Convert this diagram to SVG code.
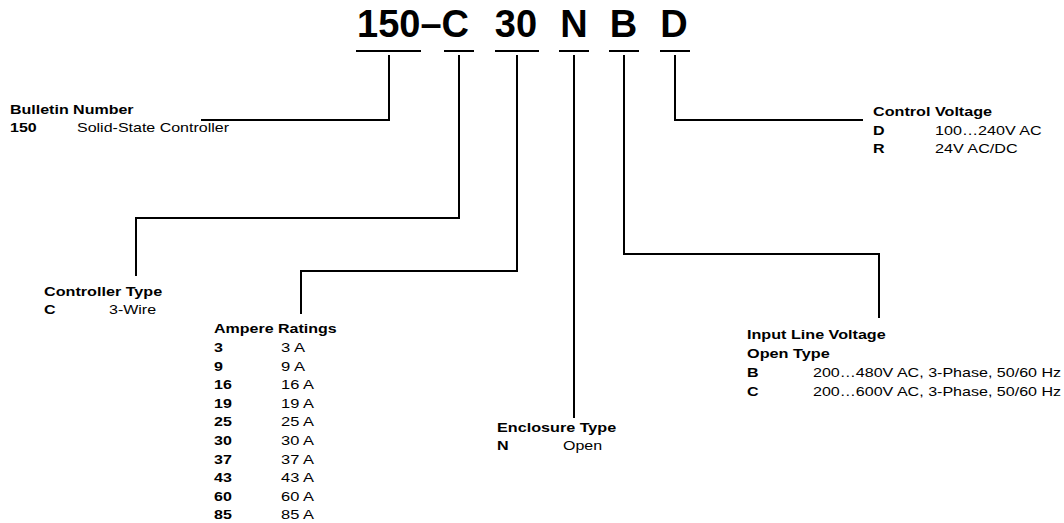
<svg xmlns="http://www.w3.org/2000/svg" width="1064" height="523" viewBox="0 0 1064 523">
<style>
text{font-family:"Liberation Sans",Arial,Helvetica,sans-serif;fill:#000}
.h{font-size:38px;font-weight:bold}
.b{font-size:13px;font-weight:bold}
.r{font-size:13px}
.ln{fill:none;stroke:#000;stroke-width:2}
</style>
<rect width="1064" height="523" fill="#fff"/>
<g id="header">
<text class="h" x="357" y="37">150–C</text>
<text class="h" x="516" y="37" text-anchor="middle">30</text>
<text class="h" x="574" y="37" text-anchor="middle">N</text>
<text class="h" x="623.5" y="37" text-anchor="middle">B</text>
<text class="h" x="674" y="37" text-anchor="middle">D</text>
</g>
<g id="connectors" class="ln">
<path d="M356 51H421M444 51H474M495 51H539M559 51H589M609 51H639M660 51H690"/>
<path d="M389 55V120H201"/>
<path d="M675 55V120H863"/>
<path d="M459 55V218H136V276"/>
<path d="M517 55V271H301V314"/>
<path d="M574 55V418"/>
<path d="M624 55V254H879V318"/>
</g>
<g id="bulletin">
<text class="b" x="10" y="114" textLength="123.6" lengthAdjust="spacingAndGlyphs">Bulletin Number</text>
<text class="b" x="10" y="132" textLength="26.7" lengthAdjust="spacingAndGlyphs">150</text>
<text class="r" x="77" y="132" textLength="152" lengthAdjust="spacingAndGlyphs">Solid-State Controller</text>
</g>
<g id="control-voltage">
<text class="b" x="873" y="116" textLength="119.1" lengthAdjust="spacingAndGlyphs">Control Voltage</text>
<text class="b" x="873" y="135" textLength="11.6" lengthAdjust="spacingAndGlyphs">D</text>
<text class="r" x="935" y="135" textLength="106.7" lengthAdjust="spacingAndGlyphs">100…240V AC</text>
<text class="b" x="873" y="153" textLength="11.6" lengthAdjust="spacingAndGlyphs">R</text>
<text class="r" x="935" y="153" textLength="82.7" lengthAdjust="spacingAndGlyphs">24V AC/DC</text>
</g>
<g id="controller-type">
<text class="b" x="44" y="296" textLength="118.2" lengthAdjust="spacingAndGlyphs">Controller Type</text>
<text class="b" x="44" y="314" textLength="11.6" lengthAdjust="spacingAndGlyphs">C</text>
<text class="r" x="109" y="314" textLength="47.1" lengthAdjust="spacingAndGlyphs">3-Wire</text>
</g>
<g id="ampere-ratings">
<text class="b" x="214" y="333" textLength="122.7" lengthAdjust="spacingAndGlyphs">Ampere Ratings</text>
<text class="b" x="214" y="352" textLength="8.9" lengthAdjust="spacingAndGlyphs">3</text>
<text class="r" x="281" y="352" textLength="24" lengthAdjust="spacingAndGlyphs">3 A</text>
<text class="b" x="214" y="370.6" textLength="8.9" lengthAdjust="spacingAndGlyphs">9</text>
<text class="r" x="281" y="370.6" textLength="24" lengthAdjust="spacingAndGlyphs">9 A</text>
<text class="b" x="214" y="389.2" textLength="17.8" lengthAdjust="spacingAndGlyphs">16</text>
<text class="r" x="281" y="389.2" textLength="32.9" lengthAdjust="spacingAndGlyphs">16 A</text>
<text class="b" x="214" y="407.8" textLength="17.8" lengthAdjust="spacingAndGlyphs">19</text>
<text class="r" x="281" y="407.8" textLength="32.9" lengthAdjust="spacingAndGlyphs">19 A</text>
<text class="b" x="214" y="426.4" textLength="17.8" lengthAdjust="spacingAndGlyphs">25</text>
<text class="r" x="281" y="426.4" textLength="32.9" lengthAdjust="spacingAndGlyphs">25 A</text>
<text class="b" x="214" y="445" textLength="17.8" lengthAdjust="spacingAndGlyphs">30</text>
<text class="r" x="281" y="445" textLength="32.9" lengthAdjust="spacingAndGlyphs">30 A</text>
<text class="b" x="214" y="463.6" textLength="17.8" lengthAdjust="spacingAndGlyphs">37</text>
<text class="r" x="281" y="463.6" textLength="32.9" lengthAdjust="spacingAndGlyphs">37 A</text>
<text class="b" x="214" y="482.2" textLength="17.8" lengthAdjust="spacingAndGlyphs">43</text>
<text class="r" x="281" y="482.2" textLength="32.9" lengthAdjust="spacingAndGlyphs">43 A</text>
<text class="b" x="214" y="500.8" textLength="17.8" lengthAdjust="spacingAndGlyphs">60</text>
<text class="r" x="281" y="500.8" textLength="32.9" lengthAdjust="spacingAndGlyphs">60 A</text>
<text class="b" x="214" y="519.4" textLength="17.8" lengthAdjust="spacingAndGlyphs">85</text>
<text class="r" x="281" y="519.4" textLength="32.9" lengthAdjust="spacingAndGlyphs">85 A</text>
</g>
<g id="enclosure-type">
<text class="b" x="497" y="432" textLength="119.2" lengthAdjust="spacingAndGlyphs">Enclosure Type</text>
<text class="b" x="497" y="450" textLength="11.6" lengthAdjust="spacingAndGlyphs">N</text>
<text class="r" x="563" y="450" textLength="39.1" lengthAdjust="spacingAndGlyphs">Open</text>
</g>
<g id="input-line-voltage">
<text class="b" x="747" y="339" textLength="138.7" lengthAdjust="spacingAndGlyphs">Input Line Voltage</text>
<text class="b" x="747" y="358" textLength="82.7" lengthAdjust="spacingAndGlyphs">Open Type</text>
<text class="b" x="747" y="377" textLength="11.6" lengthAdjust="spacingAndGlyphs">B</text>
<text class="r" x="813" y="377" textLength="248.1" lengthAdjust="spacingAndGlyphs">200…480V AC, 3-Phase, 50/60 Hz</text>
<text class="b" x="747" y="396" textLength="11.6" lengthAdjust="spacingAndGlyphs">C</text>
<text class="r" x="813" y="396" textLength="248.1" lengthAdjust="spacingAndGlyphs">200…600V AC, 3-Phase, 50/60 Hz</text>
</g>
</svg>
